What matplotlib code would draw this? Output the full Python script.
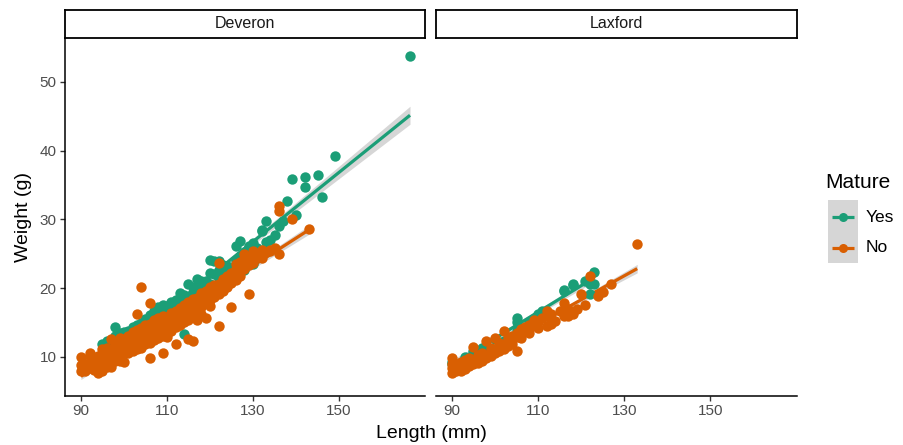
import numpy as np
import matplotlib
matplotlib.use("Agg")
import matplotlib.pyplot as plt
from matplotlib.patches import Rectangle
from matplotlib.lines import Line2D

plt.rcParams["font.family"] = ["Liberation Sans", "DejaVu Sans"]

# ---- data (length mm, weight g) ----
# Deveron, not mature
dev_no_len = [90, 90, 90, 91, 91, 92, 92, 92, 92, 93, 93, 93, 94, 94, 94, 94,
              95, 95, 95, 95, 95, 96, 96, 96, 96, 96, 97, 97, 97, 97, 97, 97,
              98, 98, 98, 98, 98, 99, 99, 99, 99, 99, 99, 100, 100, 100, 100, 100, 100,
              101, 101, 101, 101, 101, 101, 102, 102, 102, 102, 102, 102,
              103, 103, 103, 103, 103, 103, 104, 104, 104, 104, 104, 104, 104,
              105, 105, 105, 105, 105, 105, 106, 106, 106, 106, 106, 106, 106,
              107, 107, 107, 107, 107, 107, 108, 108, 108, 108, 108, 108,
              109, 109, 109, 109, 109, 109, 110, 110, 110, 110, 110, 110,
              111, 111, 111, 111, 111, 112, 112, 112, 112, 112, 112,
              113, 113, 113, 113, 113, 114, 114, 114, 114, 114,
              115, 115, 115, 115, 115, 116, 116, 116, 116, 116,
              117, 117, 117, 117, 117, 118, 118, 118, 118, 118,
              119, 119, 119, 119, 119, 120, 120, 120, 120, 121, 121, 121,
              122, 122, 122, 122, 122, 123, 123, 123, 124, 124, 124,
              125, 125, 125, 125, 126, 126, 126, 126, 127, 127, 127, 128, 128, 128, 128,
              129, 129, 129, 130, 130, 130, 130, 131, 131, 132, 132, 133, 134, 134, 135,
              136, 136, 136, 139, 143]
dev_no_wt = [10.0, 8.8, 8.0, 9.0, 7.9, 10.5, 10.1, 8.4, 9.3, 8.7, 9.8, 8.1, 9.4, 8.4, 10.1, 7.6,
             11.2, 9.1, 7.9, 10.0, 8.6, 9.7, 11.3, 8.9, 10.3, 8.5, 12.6, 10.4, 9.2, 10.9, 9.8, 8.5,
             11.4, 10.0, 9.4, 11.9, 10.6, 12.0, 10.9, 11.5, 10.1, 9.4, 12.8, 11.5, 12.6, 10.5, 12.0, 9.2, 11.1,
             12.2, 11.0, 13.0, 10.6, 11.6, 12.4, 13.0, 11.6, 12.3, 10.9, 13.6, 11.9,
             12.8, 13.9, 11.5, 12.4, 11.1, 16.3, 20.2, 13.3, 12.0, 12.7, 11.3, 14.2, 13.0,
             13.6, 12.5, 14.6, 11.8, 13.1, 12.2, 13.9, 17.9, 12.6, 9.9, 14.8, 13.3, 12.0,
             14.3, 13.0, 15.4, 12.4, 13.6, 14.0, 14.6, 13.4, 15.7, 12.8, 14.1, 13.8,
             10.6, 14.5, 13.6, 15.9, 14.9, 13.0, 14.9, 14.2, 13.3, 15.8, 12.9, 14.6,
             15.3, 14.5, 16.4, 13.8, 15.0, 11.8, 15.6, 14.8, 16.7, 14.3, 15.2,
             16.0, 15.2, 17.1, 14.6, 15.6, 16.4, 15.5, 17.6, 15.0, 16.1,
             12.6, 16.8, 15.9, 18.0, 15.4, 12.3, 17.1, 16.3, 18.4, 15.8,
             15.3, 17.7, 16.9, 18.6, 16.4, 18.0, 17.3, 19.3, 16.2, 17.7,
             15.7, 18.6, 17.8, 19.6, 18.2, 19.0, 18.2, 20.1, 17.4, 19.4, 18.7, 20.5,
             23.7, 19.9, 14.5, 19.2, 20.6, 20.5, 19.6, 21.3, 20.9, 20.1, 21.8,
             17.2, 21.4, 20.7, 22.2, 21.9, 21.2, 22.8, 23.5, 22.4, 21.7, 23.8, 24.9, 22.8, 23.3, 24.2,
             19.1, 23.4, 24.5, 25.4, 25.0, 23.6, 24.0, 24.6, 24.9, 24.4, 25.5, 25.2, 25.4, 25.6, 25.9,
             25.0, 31.9, 31.2, 30.0, 28.6]

# Deveron, mature
dev_yes_len = [95, 96, 97, 98, 98, 99, 99, 100, 100, 100,
               101, 101, 102, 102, 103, 103, 104, 104, 105, 105, 106, 106,
               107, 107, 108, 108, 108, 108, 108, 109, 109, 110, 110, 110, 110, 111, 111, 111,
               112, 112, 112, 112, 113, 113, 114, 114, 114, 114, 114, 115, 115, 116, 116, 116, 116,
               117, 117, 118, 118, 118, 118, 119, 119, 120, 120, 120, 120, 121, 121,
               122, 122, 122, 122, 122, 123, 123, 124, 124, 124, 124, 125,
               126, 126, 126, 126, 127, 127, 127, 128, 128, 128, 129, 129, 130, 130, 130, 131,
               132, 132, 133, 133, 134, 135, 136, 137, 138, 139, 140, 142, 142, 145, 146, 149, 166.5]
dev_yes_wt = [11.9, 12.3, 12.0, 14.4, 13.0, 13.5, 11.4, 12.9, 13.6, 11.0,
              13.8, 12.2, 13.3, 14.4, 14.6, 12.8, 14.9, 13.6, 15.5, 14.2, 16.1, 14.4,
              16.6, 15.0, 17.2, 16.0, 15.2, 13.8, 15.0, 16.5, 17.6, 17.4, 16.2, 14.6, 15.9, 18.0, 16.9, 17.4,
              17.0, 18.3, 15.5, 16.8, 19.3, 17.6, 18.4, 13.3, 19.0, 16.3, 17.8, 20.6, 18.7, 19.5, 20.1, 17.2, 18.7,
              21.3, 19.3, 20.0, 21.0, 18.1, 19.6, 21.0, 20.5, 24.1, 22.2, 19.0, 20.6, 24.0, 22.1,
              22.6, 21.5, 23.9, 19.8, 21.5, 21.8, 23.4, 23.2, 22.3, 20.7, 22.5, 22.9,
              26.2, 24.0, 21.6, 23.4, 24.7, 26.9, 23.9, 25.3, 22.6, 24.3, 26.0, 26.2, 26.6, 23.5, 25.3, 25.8,
              28.4, 28.3, 29.8, 26.7, 27.0, 27.8, 29.1, 29.7, 32.7, 35.9, 30.6, 36.2, 34.7, 36.5, 33.2, 39.2, 53.8]

# Laxford, not mature
lax_no_len = [90, 90, 90, 90, 91, 91, 91, 92, 92, 92, 93, 93, 93, 94, 94, 94,
              95, 95, 95, 96, 96, 96, 97, 97, 97, 98, 98, 98, 99, 99, 99, 100, 100, 100,
              101, 101, 101, 102, 102, 102, 103, 103, 103, 104, 104, 104, 105, 105, 105,
              106, 106, 106, 107, 107, 108, 108, 108, 109, 109, 110, 110, 111,
              112, 112, 112, 113, 113, 113, 114, 115, 116, 116, 117, 117, 118, 119,
              120, 121, 122, 124, 125, 127, 133]
lax_no_wt = [9.8, 8.4, 7.7, 8.9, 8.2, 9.0, 7.9, 8.6, 9.3, 8.0, 8.8, 9.5, 8.3, 9.1, 8.6, 9.8,
             11.4, 9.4, 8.9, 9.7, 10.2, 9.1, 10.0, 10.6, 9.4, 12.3, 10.3, 9.8, 10.8, 11.3, 10.1, 12.8, 11.0, 10.5,
             11.5, 10.8, 12.0, 13.8, 11.9, 11.2, 12.2, 11.6, 12.7, 12.6, 13.0, 11.9, 10.9, 12.9, 13.4,
             13.3, 14.0, 12.7, 13.8, 14.4, 14.1, 13.5, 14.7, 15.3, 14.6, 15.0, 14.2, 15.6,
             16.7, 14.5, 15.9, 15.5, 16.2, 14.8, 15.2, 16.6, 16.0, 17.8, 17.0, 16.0, 16.2, 17.0,
             19.2, 17.6, 21.7, 18.8, 19.4, 20.6, 26.4]

# Laxford, mature
lax_yes_len = [90, 90, 93, 95, 97, 100, 102, 105, 105, 105, 108, 110, 111,
               116, 116, 118, 118, 121, 122, 122, 123, 123]
lax_yes_wt = [8.9, 9.3, 10.0, 10.8, 11.3, 12.6, 12.3, 15.7, 15.0, 13.8, 14.9, 16.3, 16.6,
              19.6, 19.7, 20.5, 20.6, 21.1, 19.2, 20.6, 22.4, 20.6]

rivers = ["Deveron", "Laxford"]
mature_levels = ["Yes", "No"]
colours = {"Yes": "#1B9E77", "No": "#D95F02"}
data = {
    ("Deveron", "Yes"): (dev_yes_len, dev_yes_wt),
    ("Deveron", "No"): (dev_no_len, dev_no_wt),
    ("Laxford", "Yes"): (lax_yes_len, lax_yes_wt),
    ("Laxford", "No"): (lax_no_len, lax_no_wt),
}


def lm_smooth(x, y):
    # straight-line fit with a 95% band, like geom_smooth(method = "lm")
    x = np.asarray(x, float)
    y = np.asarray(y, float)
    n = len(x)
    b, a = np.polyfit(x, y, 1)
    xs = np.linspace(x.min(), x.max(), 80)
    ys = a + b * xs
    resid = y - (a + b * x)
    s = np.sqrt(np.sum(resid ** 2) / (n - 2))
    sxx = np.sum((x - x.mean()) ** 2)
    se = s * np.sqrt(1 / n + (xs - x.mean()) ** 2 / sxx)
    t = 1.96 + 2.4 / (n - 2)
    return xs, ys, ys - t * se, ys + t * se


W, H = 904, 445
fig = plt.figure(figsize=(W / 100, H / 100), dpi=100)

pan_bottom = 1 - 396 / H
pan_h = (396 - 38) / H
lefts = [65, 436]
rights = [425.5, 797]

for i, river in enumerate(rivers):
    ax = fig.add_axes([lefts[i] / W, pan_bottom, (rights[i] - lefts[i]) / W, pan_h])
    # smooths sit underneath the points, as in the original
    for m in mature_levels:
        L, Wt = data[(river, m)]
        xs, ys, lo, hi = lm_smooth(L, Wt)
        ax.fill_between(xs, lo, hi, color="#999999", alpha=0.4, linewidth=0, zorder=1)
        ax.plot(xs, ys, color=colours[m], lw=2.3, zorder=1.5, solid_capstyle="butt")
    for m in mature_levels:
        L, Wt = data[(river, m)]
        ax.scatter(L, Wt, s=56, color=colours[m], linewidths=0, zorder=2)

    ax.set_xlim(86.3, 170.1)
    ax.set_ylim(4.3, 56.4)
    ax.set_xticks([90, 110, 130, 150])
    ax.set_yticks([10, 20, 30, 40, 50])
    for sp in ["top", "right"]:
        ax.spines[sp].set_visible(False)
    ax.spines["bottom"].set_linewidth(1.1)
    ax.spines["left"].set_linewidth(1.1)
    ax.tick_params(length=3.5, width=1.0, color="#333333", labelsize=11,
                   labelcolor="#4D4D4D", pad=2.5)
    if i == 1:
        ax.spines["left"].set_visible(False)
        ax.tick_params(axis="y", left=False, labelleft=False)

    # facet strip
    sax = fig.add_axes([lefts[i] / W, 1 - 38 / H, (rights[i] - lefts[i]) / W, 28 / H])
    sax.set_xticks([])
    sax.set_yticks([])
    for sp in sax.spines.values():
        sp.set_linewidth(1.3)
        sp.set_color("black")
    sax.text(0.5, 0.5, river, ha="center", va="center", fontsize=11.5, color="#1A1A1A")

fig.text(431 / W, 1 - 433 / H, "Length (mm)", ha="center", va="center", fontsize=14)
fig.text(24 / W, 1 - 217 / H, "Weight (g)", ha="center", va="center", fontsize=14,
         rotation=90)

# legend
fig.text(825 / W, 1 - 183 / H, "Mature", ha="left", va="center", fontsize=15)
fig.add_artist(Rectangle((828 / W, 1 - 263 / H), 30 / W, 63 / H, transform=fig.transFigure,
                         facecolor="#D6D6D6", edgecolor="none"))
for m, yk in zip(mature_levels, [217, 248]):
    fig.add_artist(Line2D([832 / W, 854 / W], [1 - yk / H, 1 - yk / H], transform=fig.transFigure,
                          color=colours[m], lw=2.3, solid_capstyle="butt"))
    fig.add_artist(Line2D([843 / W], [1 - yk / H], transform=fig.transFigure,
                          color=colours[m], marker="o", ms=6.5, mew=0, linestyle="none"))
    fig.text(866 / W, 1 - yk / H, m, ha="left", va="center", fontsize=12.5)

fig.savefig("out.png", dpi=100)
